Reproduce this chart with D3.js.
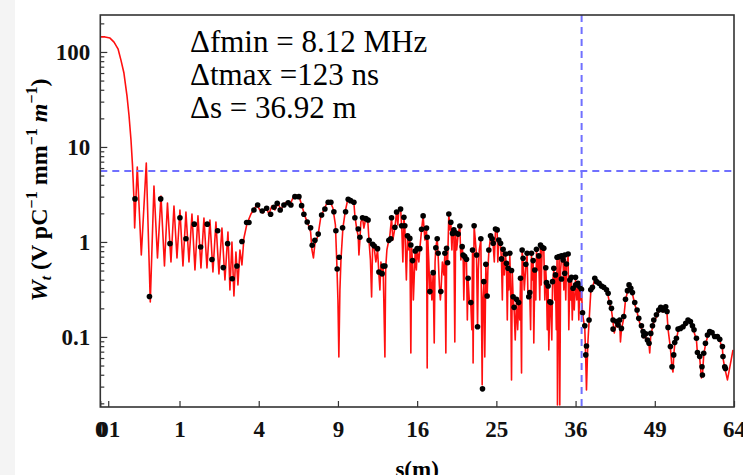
<!DOCTYPE html>
<html>
<head>
<meta charset="utf-8">
<script src="https://cdnjs.cloudflare.com/ajax/libs/d3/7.8.5/d3.min.js"></script>
<style>
body { margin: 0; background: #fff; }
svg { display: block; }
</style>
</head>
<body>
<svg id="chart" width="743" height="475"></svg>
<script>
// Wake potential trace, [s (m), W]. Split in pieces only to keep it readable
var traceA = [[0,144],[0.0035,144],[0.015,140],[0.03,127],[0.05,108],[0.068,82],[0.089,60],[0.113,35],[0.131,21.7],[0.15,11.9],[0.165,6.47],[0.181,2.77],[0.188,1.4],[0.218,6.16],[0.268,0.73],[0.337,6.79],[0.398,0.233],[0.459,3.88],[0.521,0.679],[0.587,3.05],[0.656,0.559],[0.719,2.57],[0.796,0.616],[0.865,2.39],[0.937,0.679],[1.011,2.17],[1.089,0.559],[1.169,2.07],[1.253,0.616],[1.339,1.97],[1.428,0.507],[1.52,1.88],[1.615,0.532],[1.712,1.79],[1.813,0.532],[1.916,1.7],[2.022,0.483],[2.131,1.62],[2.243,0.46],[2.358,1.4],[2.476,0.398],[2.597,1.27],[2.678,0.313],[2.762,1.0],[2.846,0.27],[2.932,0.785],[3.019,0.353],[3.107,0.824],[3.197,0.573],[3.288,1.1],[3.427,1.55],[3.616,1.97],[3.761,2.22],[3.91,2.45]];
var traceB = [[4.06,2.17],[4.22,2.02],[4.37,2.34],[4.53,1.97],[4.69,2.39],[4.86,2.17],[5.03,2.57],[5.2,2.17],[5.37,2.51],[5.55,2.64],[5.73,2.45],[5.91,2.9],[6.1,3.12],[6.29,3.05],[6.48,2.39],[6.67,1.88],[6.87,1.55],[7.05,1.27],[7.14,0.824],[7.24,0.679],[7.34,0.953],[7.55,1.16],[7.76,1.88],[7.97,2.17],[8.18,2.57],[8.4,2.7],[8.62,2.28],[8.81,1.51],[8.92,0.573],[9.0,0.245],[9.07,0.0616],[9.15,0.313],[9.23,0.647],[9.38,1.4],[9.57,2.12],[9.77,2.84],[9.98,2.7]];
var traceC = [[10.09,2.57],[10.25,2.57],[10.33,1.88],[10.49,1.34],[10.6,1.16],[10.66,0.73],[10.74,1.05],[10.82,1.62],[10.96,1.79],[11.07,1.4],[11.24,1.79],[11.41,1.62],[11.52,0.976],[11.63,0.647],[11.73,0.264],[11.82,0.908],[11.96,0.865],[12.1,0.616],[12.25,0.824],[12.37,0.46],[12.46,0.313],[12.55,0.616],[12.66,0.439],[12.75,0.532],[12.81,0.245],[12.91,0.0616],[12.98,0.532],[13.09,0.824],[13.27,1.05],[13.36,1.16],[13.52,1.79],[13.64,1.05],[13.83,1.4],[13.99,2.07],[14.11,1.51],[14.21,2.28],[14.37,2.28],[14.49,1.34],[14.59,0.616],[14.69,1.79],[14.78,1.4],[14.93,0.398],[15.04,1.1],[15.17,0.824],[15.27,1.05],[15.37,0.0679],[15.45,0.865],[15.54,0.616],[15.62,0.245],[15.8,0.785],[15.92,0.507],[16.0,0.824],[16.17,0.616],[16.27,0.844],[16.45,1.34],[16.61,1.88],[16.79,1.05],[16.96,1.4],[17.03,0.0472],[17.1,1.05],[17.2,0.616],[17.31,0.284],[17.41,0.45],[17.52,0.245],[17.66,0.46],[17.77,0.0865],[17.86,0.616],[17.94,0.865],[18.09,1.1],[18.19,0.713],[18.32,0.353],[18.43,0.245],[18.48,0.284],[18.65,0.616],[18.81,0.45],[18.92,0.748],[19.03,0.0679],[19.12,0.824],[19.22,0.587],[19.36,1.97],[19.47,1.34],[19.58,1.62],[19.7,0.824],[19.77,1.21],[19.92,1.34],[20.03,0.0886],[20.12,1.21],[20.24,0.824],[20.41,1.21],[20.6,1.47],[20.72,0.647],[20.87,0.865],[20.98,0.713],[21.06,0.245],[21.18,0.679],[21.37,0.616],[21.47,0.151],[21.56,0.398],[21.7,0.245],[21.88,0.222],[22.0,0.119],[22.08,0.785],[22.15,0.0532],[22.27,1.47],[22.41,1.05],[22.56,0.713],[22.68,0.124],[22.77,0.507],[22.89,0.824],[23.08,1.05],[23.24,0.0313],[23.32,0.245],[23.44,0.361],[23.56,0.0616],[23.69,0.559],[23.85,0.258],[23.94,0.507],[24.06,0.785],[24.27,1.13],[24.47,1.05],[24.6,0.93],[24.74,0.616],[24.89,1.34],[25.1,1.31],[25.18,0.616],[25.31,1.02],[25.53,0.93],[25.65,0.647],[25.76,0.245],[25.86,0.824],[26.01,0.45],[26.17,0.713],[26.29,0.573],[26.4,0.151],[26.5,0.507],[26.6,0.313],[26.73,0.73],[26.86,0.245],[26.95,0.0353],[27.05,0.483],[27.16,0.258],[27.29,0.197],[27.44,0.093],[27.6,0.245],[27.76,0.119],[27.89,0.222],[28.05,0.151],[28.14,0.398],[28.28,0.0418],[28.36,0.785],[28.49,0.647],[28.65,0.313],[28.86,0.559],[29.03,0.73],[29.13,0.313],[29.26,0.258],[29.4,0.284],[29.51,0.119],[29.63,0.73],[29.74,0.398],[29.86,0.616],[29.95,0.0865],[30.09,0.483],[30.23,0.245],[30.32,0.804],[30.51,0.507],[30.64,0.679],[30.78,0.245],[30.88,0.886],[30.99,0.353],[31.11,0.844],[31.35,0.824],[31.49,0.245],[31.63,0.507],[31.73,0.361],[31.84,0.119],[31.96,0.328],[32.06,0.073],[32.2,0.222],[32.34,0.222],[32.49,0.093],[32.59,0.361],[32.78,0.507],[32.92,0.245],[33.02,0.428],[33.14,0.119],[33.25,0.663],[33.31,0.0192],[33.43,0.245],[33.55,0.679],[33.65,0.0192],[33.77,0.507],[33.9,0.679],[34.14,0.616],[34.24,0.313],[34.38,0.713],[34.53,0.245],[34.63,0.559],[34.88,0.713],[34.98,0.119],[35.13,0.379],[35.28,0.245],[35.38,0.408],[35.5,0.151],[35.62,0.313],[35.8,0.192],[35.99,0.408],[36.18,0.245],[36.38,0.353],[36.49,0.151],[36.64,0.328],[36.79,0.245],[36.9,0.305]];
var traceD = [[37.06,0.175],[37.41,0.124],[37.56,0.0573],[37.67,0.0277],[37.87,0.0824],[38.07,0.144],[38.34,0.298],[38.6,0.328],[38.97,0.408],[39.24,0.37],[39.65,0.353],[40.03,0.336],[40.4,0.32],[40.83,0.298],[41.1,0.27],[41.36,0.222],[41.64,0.192],[41.9,0.144],[42.1,0.11],[42.46,0.14],[42.72,0.127],[43.0,0.144],[43.12,0.0886],[43.28,0.119],[43.67,0.158],[43.96,0.245],[44.29,0.298],[44.56,0.344],[44.85,0.313],[45.13,0.284],[45.52,0.222],[45.92,0.183],[46.21,0.151],[46.67,0.124],[46.95,0.108],[47.07,0.0976],[47.41,0.103],[47.71,0.0886],[47.99,0.0824],[48.11,0.0679],[48.29,0.105],[48.59,0.124],[48.82,0.144],[49.29,0.162],[49.7,0.183],[50.06,0.197],[50.47,0.183],[50.95,0.202],[51.19,0.175],[51.37,0.121],[51.8,0.0766],[52.09,0.0472],[52.27,0.0428],[52.4,0.063],[52.59,0.0844],[52.9,0.093],[53.2,0.116],[53.64,0.119],[54.12,0.124],[54.62,0.134],[55.05,0.144],[55.5,0.14],[55.88,0.124],[56.18,0.113],[56.64,0.093],[56.83,0.0663],[57.26,0.0601],[57.59,0.037],[57.78,0.0389],[58.03,0.0647],[58.36,0.0824],[58.75,0.1],[59.19,0.11],[59.64,0.108],[60.16,0.0976],[60.69,0.0976],[61.15,0.091],[61.68,0.0766],[61.8,0.0601],[62.14,0.0472],[62.68,0.0353],[63.13,0.0472],[63.8,0.073]];

// Sampled points (black dots), [s (m), W]
var dotsNear = [[0.192,2.84],[0.385,0.267],[0.581,2.84],[0.774,0.96],[1.011,1.8],[1.169,1.08],[1.407,1.54],[1.605,0.886],[1.823,1.54],[1.987,0.654],[2.195,1.31],[2.409,0.537],[2.584,0.96],[2.774,0.41],[2.975,0.559],[3.197,1.01],[3.413,1.6],[3.521,1.6],[3.761,2.17],[3.945,2.45],[4.179,2.12],[4.409,2.26],[4.623,1.96],[4.804,2.32],[4.988,2.55],[5.159,2.17],[5.373,2.45],[5.627,2.59],[5.79,2.45],[6.036,3.0],[6.286,3.0],[6.458,2.41],[6.606,1.96],[6.822,1.62],[7.048,1.41],[7.156,0.923],[7.339,1.04],[7.567,1.21],[7.805,1.92],[8.039,2.22],[8.277,2.62],[8.474,2.62],[8.696,2.08],[8.845,1.31],[8.943,0.52],[9.095,0.69],[9.356,1.41],[9.589,2.08],[9.793,2.82]];
var dotsMid = [[9.98,2.72],[10.25,2.62],[10.33,1.8],[10.6,1.37],[10.74,1.12],[10.96,1.8],[11.24,1.76],[11.43,1.7],[11.52,1.04],[11.82,0.946],[11.96,0.908],[12.25,0.85],[12.37,0.483],[12.66,0.464],[12.75,0.559],[12.91,0.559],[13.27,1.04],[13.45,1.08],[13.52,1.8],[13.83,1.43],[13.99,2.07],[14.37,2.22],[14.47,1.48],[14.69,1.82],[14.78,1.48],[15.04,1.16],[15.27,1.09],[15.37,0.93],[15.54,0.636],[15.8,0.804],[16.0,0.85],[16.27,0.85],[16.45,1.36],[16.61,1.88],[16.96,1.4],[17.03,1.12],[17.31,0.3],[17.66,0.475],[17.94,0.87],[18.09,1.08],[18.19,0.76],[18.48,0.3],[18.92,0.76],[19.11,0.858],[19.22,0.605],[19.36,1.97],[19.58,1.61],[19.77,1.23],[19.92,1.34],[20.11,1.25],[20.41,1.21],[20.6,1.47],[20.87,0.892],[20.98,0.73],[21.18,0.7],[21.37,0.657],[21.56,0.415],[21.88,0.23],[22.08,0.824],[22.27,1.48],[22.56,0.73],[22.68,0.128],[23.08,1.08],[23.28,0.0284],[23.44,0.382],[23.69,0.582],[23.85,0.27],[24.06,0.824],[24.27,1.16],[24.47,1.08],[24.6,0.969],[24.89,1.37],[25.1,1.34],[25.31,1.05],[25.53,0.969],[25.65,0.663],[25.86,0.838],[26.17,0.748],[26.29,0.597],[26.5,0.529],[26.73,0.76],[26.95,0.5],[27.16,0.265],[27.29,0.205],[27.6,0.249],[27.89,0.23],[28.14,0.415],[28.36,0.824],[28.49,0.674],[28.86,0.582],[29.03,0.76],[29.26,0.265],[29.4,0.293],[29.63,0.76],[29.86,0.636],[30.09,0.507],[30.32,0.838],[30.64,0.713],[30.88,0.93],[31.11,0.88],[31.35,0.858],[31.63,0.536],[31.73,0.373],[31.96,0.344],[32.2,0.235],[32.34,0.23],[32.59,0.382],[32.78,0.529],[33.02,0.45],[33.25,0.69],[33.55,0.7],[33.9,0.713],[33.9,0.408],[34.14,0.647],[34.38,0.468],[34.38,0.73],[34.63,0.587],[34.88,0.748],[35.13,0.398],[35.38,0.425],[35.62,0.326],[35.99,0.425],[36.02,0.353],[36.38,0.367],[36.64,0.338],[36.9,0.317]];
var dotsFar = [[37.06,0.18],[37.41,0.131],[37.56,0.0647],[37.67,0.0804],[38.07,0.151],[38.34,0.313],[38.6,0.333],[38.97,0.415],[39.24,0.382],[39.65,0.367],[40.03,0.344],[40.4,0.333],[40.83,0.313],[41.1,0.288],[41.36,0.23],[41.64,0.2],[41.9,0.151],[41.9,0.121],[42.46,0.145],[42.72,0.134],[43.0,0.151],[43.28,0.123],[43.67,0.164],[43.96,0.249],[44.29,0.307],[44.56,0.353],[44.85,0.326],[45.13,0.293],[45.52,0.23],[45.92,0.192],[46.21,0.157],[46.67,0.131],[46.95,0.114],[47.07,0.103],[47.41,0.108],[47.71,0.093],[47.99,0.0858],[48.29,0.109],[48.59,0.131],[48.82,0.151],[49.29,0.171],[49.7,0.192],[50.06,0.205],[50.47,0.192],[50.95,0.208],[51.19,0.185],[51.37,0.126],[51.8,0.0792],[52.09,0.0486],[52.4,0.0647],[52.59,0.0872],[52.9,0.0968],[53.2,0.121],[53.64,0.123],[54.12,0.128],[54.62,0.139],[55.05,0.151],[55.5,0.145],[55.88,0.131],[56.18,0.119],[56.64,0.0968],[56.83,0.0685],[57.26,0.0621],[57.7,0.0486],[57.78,0.0398],[58.03,0.0674],[58.36,0.0858],[58.75,0.105],[59.19,0.114],[59.64,0.111],[60.16,0.101],[60.69,0.101],[61.15,0.0946],[61.68,0.0792],[61.8,0.0621],[62.14,0.0486],[62.28,0.0466]];

// Axis ticks and labels
var xTicks = [0, 0.01, 1, 4, 9, 16, 25, 36, 49, 64];
var xTickLabels = ['0', '01', '1', '4', '9', '16', '25', '36', '49', '64'];
var yTicks = [0.1, 1, 10, 100];
var yTickLabels = ['0.1', '1', '10', '100'];

// Reference lines and notes
var wLevel = 5.6;
var sMax = 36.92;
var notes = ['\u0394fmin = 8.12 MHz', '\u0394tmax =123 ns', '\u0394s = 36.92 m'];

var svg = d3.select('#chart');
var plot = {left: 100.3, right: 734, top: 15, bottom: 407};

// side strip of the screenshot
svg.append('rect').attr('x', 0).attr('y', 0).attr('width', 15).attr('height', 475).style('fill', '#f4f4f4');

var x = d3.scaleSqrt().domain([0, 64]).range([plot.left, plot.right]);
var y = d3.scaleLog().domain([0.0183, 245]).range([plot.bottom, plot.top]);

var serif = '"Liberation Serif", "Times New Roman", serif';

svg.append('clipPath').attr('id', 'clip')
	.append('rect')
	.attr('x', plot.left).attr('y', plot.top)
	.attr('width', plot.right - plot.left).attr('height', plot.bottom - plot.top);

// Red trace
var trace = traceA.concat(traceB, traceC, traceD);
var line = d3.line()
	.x(function(d) { return x(d[0]); })
	.y(function(d) { return y(d[1]); });

svg.append('path')
	.datum(trace)
	.attr('clip-path', 'url(#clip)')
	.attr('d', line)
	.style('fill', 'none')
	.style('stroke', '#ff1010')
	.style('stroke-width', 1.6)
	.style('stroke-linejoin', 'round');

// Black sampled dots
var dots = dotsNear.concat(dotsMid, dotsFar);
svg.append('g').selectAll('circle')
	.data(dots)
	.enter().append('circle')
	.attr('cx', function(d) { return x(d[0]); })
	.attr('cy', function(d) { return y(d[1]); })
	.attr('r', 2.8)
	.style('fill', '#000');

// Dashed blue guides
svg.append('line')
	.attr('x1', plot.left).attr('x2', plot.right)
	.attr('y1', y(wLevel)).attr('y2', y(wLevel))
	.style('stroke', '#7070ff').style('stroke-width', 2).style('stroke-dasharray', '7,5');
svg.append('line')
	.attr('x1', x(sMax)).attr('x2', x(sMax))
	.attr('y1', plot.top).attr('y2', plot.bottom)
	.style('stroke', '#7070ff').style('stroke-width', 2).style('stroke-dasharray', '7,5');

// Y axis: major ticks with labels, minor ticks inside
var minorY = y.ticks().filter(function(v) { return yTicks.indexOf(v) < 0; });
svg.append('g')
	.attr('transform', 'translate(' + plot.left + ',0)')
	.call(d3.axisLeft(y).tickValues(yTicks)
		.tickFormat(function(d, i) { return yTickLabels[i]; })
		.tickSizeInner(-7).tickSizeOuter(0).tickPadding(10));
svg.append('g')
	.attr('transform', 'translate(' + plot.left + ',0)')
	.call(d3.axisLeft(y).tickValues(minorY).tickFormat('').tickSizeInner(-4).tickSizeOuter(0));

// X axis
svg.append('g')
	.attr('transform', 'translate(0,' + plot.bottom + ')')
	.call(d3.axisBottom(x).tickValues(xTicks)
		.tickFormat(function(d, i) { return xTickLabels[i]; })
		.tickSizeInner(-6).tickSizeOuter(0).tickPadding(14));

svg.selectAll('.domain').remove();
svg.selectAll('.tick line').style('stroke', '#333').style('stroke-width', 1.2);
svg.selectAll('.tick text')
	.style('font-family', serif)
	.style('font-weight', 'bold')
	.style('font-size', '23px')
	.style('fill', '#111');

// Frame
svg.append('rect')
	.attr('x', plot.left).attr('y', plot.top)
	.attr('width', plot.right - plot.left).attr('height', plot.bottom - plot.top)
	.style('fill', 'none').style('stroke', '#333').style('stroke-width', 1.6);

// Notes in the top left
svg.append('g').selectAll('text')
	.data(notes)
	.enter().append('text')
	.attr('x', 190)
	.attr('y', function(d, i) { return 52 + i * 33; })
	.text(function(d) { return d; })
	.style('font-family', serif)
	.style('font-size', '31px')
	.style('fill', '#000');

// Axis titles
svg.append('text')
	.attr('x', x(16)).attr('y', 477)
	.attr('text-anchor', 'middle')
	.style('font-family', serif).style('font-weight', 'bold').style('font-size', '23px')
	.text('s(m)');

var yTitle = svg.append('text')
	.attr('transform', 'translate(47,190) rotate(-90)')
	.attr('text-anchor', 'middle')
	.style('font-family', serif).style('font-weight', 'bold').style('font-size', '24px');
yTitle.append('tspan').style('font-style', 'italic').text('W');
yTitle.append('tspan').style('font-style', 'italic').style('font-size', '15px').attr('dy', 4).text('t');
yTitle.append('tspan').attr('dy', -4).text(' (V pC');
yTitle.append('tspan').style('font-size', '16px').attr('dy', -10).text('\u22121');
yTitle.append('tspan').attr('dy', 10).text(' mm');
yTitle.append('tspan').style('font-size', '16px').attr('dy', -10).text('\u22121');
yTitle.append('tspan').attr('dy', 10).text(' ');
yTitle.append('tspan').style('font-style', 'italic').text('m');
yTitle.append('tspan').style('font-size', '16px').attr('dy', -10).text('\u22121');
yTitle.append('tspan').attr('dy', 10).text(')');
</script>
</body>
</html>
